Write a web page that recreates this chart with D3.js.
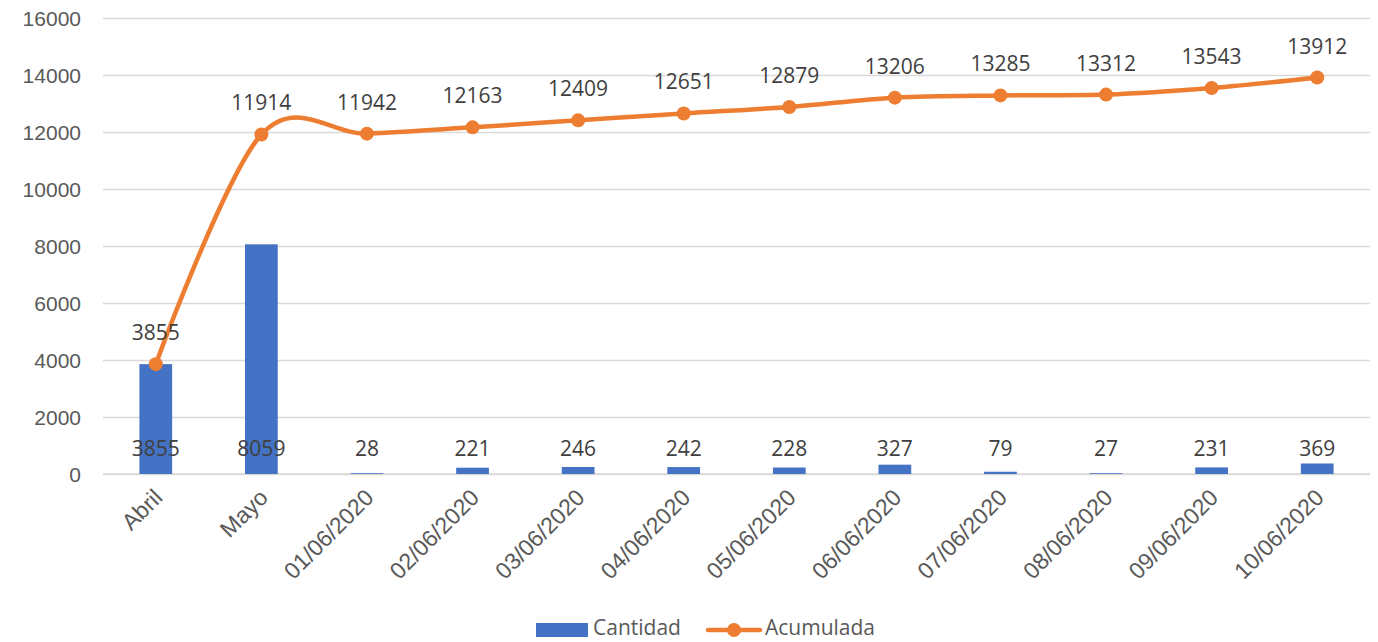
<!DOCTYPE html>
<html>
<head>
<meta charset="utf-8">
<script src="https://cdn.jsdelivr.net/npm/d3@7"></script>
<style>
  html, body { margin: 0; padding: 0; background: #fff; }
  svg { display: block; font-family: "Open Sans", "Liberation Sans", sans-serif; }
</style>
</head>
<body>
<svg id="chart" width="1378" height="642"></svg>
<script>
// Daily and cumulative counts
const categories = ["Abril", "Mayo", "01/06/2020", "02/06/2020", "03/06/2020", "04/06/2020",
  "05/06/2020", "06/06/2020", "07/06/2020", "08/06/2020", "09/06/2020", "10/06/2020"];
const cantidad = [3855, 8059, 28, 221, 246, 242, 228, 327, 79, 27, 231, 369];
const acumulada = [3855, 11914, 11942, 12163, 12409, 12651, 12879, 13206, 13285, 13312, 13543, 13912];
const yTicks = [0, 2000, 4000, 6000, 8000, 10000, 12000, 14000, 16000];
const seriesNames = ["Cantidad", "Acumulada"];

const blue = "#4472C4", orange = "#ED7D31";
const svg = d3.select("#chart");
const plot = { left: 103, right: 1370, top: 18, bottom: 474 };

const x = d3.scaleBand().domain(categories).range([plot.left, plot.right]).paddingInner(0.69).paddingOuter(0.345);
const xc = d => x(d) + x.bandwidth() / 2;
const y = d3.scaleLinear().domain([0, 16000]).range([plot.bottom, plot.top]);

// gridlines and value axis
const yAxis = d3.axisLeft(y).tickValues(yTicks).tickSize(-(plot.right - plot.left)).tickFormat(d3.format("d"));
const gy = svg.append("g").attr("transform", `translate(${plot.left},0)`).call(yAxis);
gy.select(".domain").remove();
gy.selectAll(".tick line").attr("stroke", "#d9d9d9").attr("stroke-width", 1.3);
gy.selectAll(".tick text").attr("fill", "#595959").attr("font-size", 21).attr("x", -22).attr("dy", "0.35em");

// category axis
const xAxis = d3.axisBottom(x).tickSize(0).tickPadding(0);
const gx = svg.append("g").attr("transform", `translate(0,${plot.bottom})`).call(xAxis);
gx.select(".domain").attr("stroke", "#d9d9d9").attr("stroke-width", 1.3)
  .attr("d", `M${plot.left},0H${plot.right}`);
gx.selectAll(".tick text")
  .attr("fill", "#595959").attr("font-size", 23)
  .attr("text-anchor", "end")
  .attr("dy", 0)
  .attr("transform", "translate(8,25) rotate(-45)");

// bars
svg.append("g").selectAll("rect").data(categories).join("rect")
  .attr("x", d => x(d))
  .attr("width", x.bandwidth())
  .attr("y", (d, i) => y(cantidad[i]))
  .attr("height", (d, i) => plot.bottom - y(cantidad[i]))
  .attr("fill", blue);

// bar labels at the base
svg.append("g").selectAll("text").data(categories).join("text")
  .attr("x", d => xc(d))
  .attr("y", plot.bottom - 18)
  .attr("text-anchor", "middle")
  .attr("font-size", 21)
  .attr("fill", "#404040")
  .text((d, i) => cantidad[i]);

// cumulative line
const line = d3.line().x(d => xc(d[0])).y(d => y(d[1])).curve(d3.curveCardinal.tension(0));
const pts = categories.map((c, i) => [c, acumulada[i]]);
svg.append("path").datum(pts)
  .attr("d", line)
  .attr("fill", "none")
  .attr("stroke", orange)
  .attr("stroke-width", 4.5)
  .attr("stroke-linecap", "round");

svg.append("g").selectAll("circle").data(pts).join("circle")
  .attr("cx", d => xc(d[0]))
  .attr("cy", d => y(d[1]))
  .attr("r", 7)
  .attr("fill", orange);

svg.append("g").selectAll("text").data(pts).join("text")
  .attr("x", d => xc(d[0]))
  .attr("y", d => y(d[1]) - 24)
  .attr("text-anchor", "middle")
  .attr("font-size", 21)
  .attr("fill", "#404040")
  .text(d => d[1]);

// legend
const lg = svg.append("g");
lg.append("rect").attr("x", 536).attr("y", 623).attr("width", 52).attr("height", 14).attr("fill", blue);
lg.append("text").attr("x", 593).attr("y", 635).attr("font-size", 21).attr("fill", "#595959").text(seriesNames[0]);
lg.append("line").attr("x1", 708).attr("x2", 760).attr("y1", 630).attr("y2", 630)
  .attr("stroke", orange).attr("stroke-width", 4.5).attr("stroke-linecap", "round");
lg.append("circle").attr("cx", 734).attr("cy", 630).attr("r", 7).attr("fill", orange);
lg.append("text").attr("x", 765).attr("y", 635).attr("font-size", 21).attr("fill", "#595959").text(seriesNames[1]);
</script>
</body>
</html>
